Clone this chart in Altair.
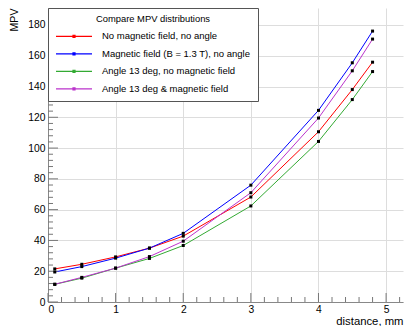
import altair as alt
import pandas as pd
import numpy as np

distance = [0.1, 0.5, 1.0, 1.5, 2.0, 3.0, 4.0, 4.5, 4.8]
series_names = [
    "No magnetic field, no angle",
    "Magnetic field (B = 1.3 T), no angle",
    "Angle 13 deg, no magnetic field",
    "Angle 13 deg & magnetic field",
]
mpv_red = [21.5, 24.5, 29.3, 35.0, 42.8, 68.2, 110.6, 138.0, 155.8]
mpv_blue = [19.5, 23.0, 28.5, 35.0, 44.6, 75.9, 124.5, 155.4, 176.0]
mpv_green = [11.5, 15.5, 22.0, 28.3, 36.7, 62.4, 104.3, 131.5, 149.7]
mpv_purple = [11.5, 16.0, 22.0, 29.5, 39.5, 71.0, 119.5, 150.2, 170.8]
colors = ["#ff0000", "#0000ff", "#33aa33", "#bb33cc"]

rows = []
for name, vals in zip(series_names, [mpv_red, mpv_blue, mpv_green, mpv_purple]):
    for d, v in zip(distance, vals):
        rows.append({"distance": d, "MPV": v, "series": name})
df = pd.DataFrame(rows)

x_major = [0, 1, 2, 3, 4, 5]
x_minor = [round(v, 1) for v in np.arange(0, 5.25, 0.2) if abs(v - round(v)) > 1e-6]
y_major = list(range(0, 181, 20))
y_minor = [v for v in range(0, 191, 4) if v % 20 != 0]

W, H = 355, 294
xs = alt.Scale(domain=[0, 5.25], nice=False, zero=False)
ys = alt.Scale(domain=[0, 191], nice=False, zero=False)
FONT = "Liberation Sans"

x_axis = alt.Axis(values=x_major, title="distance, mm", ticks=False,
                  grid=True, labelFontSize=10.3, labelPadding=2,
                  titleFontSize=11.3, titleFontWeight="normal",
                  titleAnchor="end", titleAlign="right",
                  titleX=W, titleY=22.5, titleBaseline="alphabetic")
y_axis = alt.Axis(values=y_major, title="MPV", ticks=False, grid=True,
                  labelFontSize=10.3, labelPadding=3,
                  titleFontSize=10.6, titleFontWeight="normal",
                  titleAngle=-90, titleAlign="right",
                  titleX=-31, titleY=0, titleBaseline="alphabetic")

base = alt.Chart(df)
lines = base.mark_line(strokeWidth=1).encode(
    x=alt.X("distance:Q", scale=xs, axis=x_axis),
    y=alt.Y("MPV:Q", scale=ys, axis=y_axis),
    color=alt.Color("series:N", sort=series_names,
                    scale=alt.Scale(domain=series_names, range=colors),
                    legend=alt.Legend(title="Compare MPV distributions",
                                      orient="none", legendX=0, legendY=0,
                                      fillColor="white", strokeColor="#555",
                                      padding=7, titleFontSize=9.4,
                                      titleFontWeight="normal",
                                      titleAnchor="middle", titlePadding=1,
                                      labelFontSize=9.5, labelOffset=25,
                                      symbolType="M-1,0H2.6M0.7,-0.1H0.9V0.1H0.7Z",
                                      symbolSize=400,
                                      symbolFillColor="black",
                                      symbolStrokeWidth=1.2, rowPadding=1.5,
                                      labelLimit=300)),
)
points = base.mark_square(size=9, color="black", opacity=1).encode(
    x=alt.X("distance:Q", scale=xs, axis=x_axis),
    y=alt.Y("MPV:Q", scale=ys, axis=y_axis),
    detail="series:N",
)

tick_color = "#777"
ymaj = alt.Chart(pd.DataFrame({"MPV": y_major})).mark_rule(color=tick_color).encode(
    y=alt.Y("MPV:Q", scale=ys, axis=y_axis), x=alt.value(0), x2=alt.value(10))
ymin = alt.Chart(pd.DataFrame({"MPV": y_minor})).mark_rule(color=tick_color).encode(
    y=alt.Y("MPV:Q", scale=ys, axis=y_axis), x=alt.value(0), x2=alt.value(5))
xmaj = alt.Chart(pd.DataFrame({"distance": x_major})).mark_rule(color=tick_color).encode(
    x=alt.X("distance:Q", scale=xs, axis=x_axis), y=alt.value(H), y2=alt.value(H - 9))
xmin = alt.Chart(pd.DataFrame({"distance": x_minor})).mark_rule(color=tick_color).encode(
    x=alt.X("distance:Q", scale=xs, axis=x_axis), y=alt.value(H), y2=alt.value(H - 5))

chart = alt.layer(lines, ymaj, ymin, xmaj, xmin, points).properties(
    width=W, height=H,
    autosize=alt.AutoSizeParams(type="none"),
    padding={"left": 48, "top": 8, "right": 3, "bottom": 24},
).configure_view(stroke=None).configure_axis(
    domainColor="#888", gridColor="#dddddd", labelFont=FONT, titleFont=FONT,
    labelColor="black", titleColor="black",
).configure_legend(labelFont=FONT, titleFont=FONT, labelColor="black",
                   titleColor="black", cornerRadius=0)

chart.save("out.html", embed_options={"renderer": "svg", "actions": False})
